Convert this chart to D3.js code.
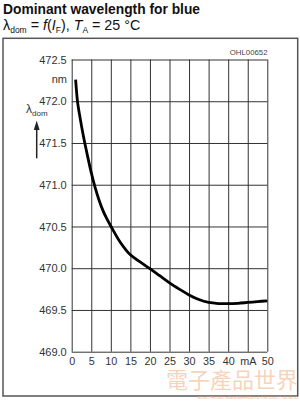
<!DOCTYPE html>
<html>
<head>
<meta charset="utf-8">
<script src="https://cdn.jsdelivr.net/npm/d3@7"></script>
<style>
  html, body { margin: 0; padding: 0; background: #fff; }
  svg { display: block; font-family: "Liberation Sans", Arial, sans-serif; }
</style>
</head>
<body>
<div id="chart"></div>
<script>
// forward current I_F (mA) and dominant wavelength (nm)
const currentMA = [1, 1.5, 2, 2.5, 3, 3.5, 4, 5, 6, 7, 8, 9, 10, 12.5, 15, 17.5, 20, 22.5, 25, 27.5, 30, 32.5, 35, 37.5, 40, 42.5, 45, 47.5, 50];
const wavelengthNm = [472.26, 471.99, 471.84, 471.705, 471.58, 471.465, 471.355, 471.145, 470.965, 470.815, 470.69, 470.59, 470.505, 470.305, 470.16, 470.075, 469.995, 469.91, 469.825, 469.75, 469.68, 469.625, 469.59, 469.577, 469.575, 469.58, 469.59, 469.60, 469.61];

const xTicks = [0, 5, 10, 15, 20, 25, 30, 35, 40, 45, 50];
const xTickLabels = ["0", "5", "10", "15", "20", "25", "30", "35", "40", "mA", "50"];
const yTicks = [469.0, 469.5, 470.0, 470.5, 471.0, 471.5, 472.0, 472.5];

const width = 300;
const height = 401;

const x = d3.scaleLinear().domain([0, 50]).range([71.7, 267.3]);
const y = d3.scaleLinear().domain([469, 472.5]).range([351.7, 59.5]);

const svg = d3.select("#chart").append("svg")
    .attr("width", width)
    .attr("height", height)
    .attr("viewBox", [0, 0, width, height]);

// title lines
svg.append("text")
    .attr("x", 3)
    .attr("y", 14)
    .attr("font-size", 13.8)
    .attr("font-weight", "bold")
    .attr("fill", "#111")
    .text("Dominant wavelength for blue");

const sub = svg.append("text")
    .attr("x", 3)
    .attr("y", 30)
    .attr("font-size", 14.3)
    .attr("fill", "#111");
sub.append("tspan").text("λ");
sub.append("tspan").attr("font-size", 8.5).attr("dy", 3).text("dom");
sub.append("tspan").attr("dy", -3).text(" = ");
sub.append("tspan").attr("font-style", "italic").text("f");
sub.append("tspan").text("(");
sub.append("tspan").attr("font-style", "italic").text("I");
sub.append("tspan").attr("font-size", 8.5).attr("dy", 3).text("F");
sub.append("tspan").attr("dy", -3).text("), ");
sub.append("tspan").attr("font-style", "italic").text("T");
sub.append("tspan").attr("font-size", 8.5).attr("dy", 3).text("A");
sub.append("tspan").attr("dy", -3).text(" = 25 °C");

// outer frame
svg.append("rect")
    .attr("x", 3)
    .attr("y", 38.3)
    .attr("width", 294.7)
    .attr("height", 357.7)
    .attr("fill", "none")
    .attr("stroke", "#555")
    .attr("stroke-width", 1.5);

// watermark
svg.append("text")
    .attr("x", 298)
    .attr("y", 388)
    .attr("text-anchor", "end")
    .attr("font-family", "'Noto Sans CJK TC', sans-serif")
    .attr("font-size", 22)
    .attr("fill", "#f4bf9c")
    .attr("fill-opacity", 0.7)
    .text("電子產品世界");
svg.append("text")
    .attr("x", 298)
    .attr("y", 399)
    .attr("text-anchor", "end")
    .attr("font-size", 4.2)
    .attr("fill", "#f2b48a")
    .text("ELECTRONIC ENGINEERING & PRODUCT WORLD");

// grid + axes
svg.append("g")
    .attr("transform", `translate(0,${y(469)})`)
    .call(d3.axisBottom(x).tickValues(xTicks).tickSize(y(472.5) - y(469)).tickFormat((d, i) => xTickLabels[i]))
    .call(g => g.select(".domain").remove())
    .call(g => g.selectAll(".tick line").attr("stroke", "#333").attr("stroke-width", 1)
        .attr("y1", 0).attr("y2", y(472.5) - y(469)))
    .call(g => g.selectAll(".tick text")
        .attr("y", 13.5)
        .attr("dy", 0)
        .attr("font-size", 10.8)
        .attr("font-family", "'Liberation Sans', Arial, sans-serif")
        .attr("fill", "#333"));

svg.append("g")
    .attr("transform", `translate(${x(0)},0)`)
    .call(d3.axisLeft(y).tickValues(yTicks).tickSize(-(x(50) - x(0))).tickFormat(d3.format(".1f")))
    .call(g => g.select(".domain").remove())
    .call(g => g.selectAll(".tick line").attr("stroke", "#333").attr("stroke-width", 1))
    .call(g => g.selectAll(".tick text")
        .attr("x", -5)
        .attr("font-size", 11)
        .attr("font-family", "'Liberation Sans', Arial, sans-serif")
        .attr("fill", "#333"));

// unit + axis symbol
svg.append("text")
    .attr("x", 67)
    .attr("y", 82.5)
    .attr("text-anchor", "end")
    .attr("font-size", 11)
    .attr("fill", "#333")
    .text("nm");

const yl = svg.append("text")
    .attr("x", 26)
    .attr("y", 113)
    .attr("font-size", 12)
    .attr("fill", "#333");
yl.append("tspan").text("λ");
yl.append("tspan").attr("font-size", 8).attr("dy", 3).text("dom");

svg.append("line")
    .attr("x1", 36.7).attr("x2", 36.7)
    .attr("y1", 128).attr("y2", 158.3)
    .attr("stroke", "#222")
    .attr("stroke-width", 1.5);
svg.append("path")
    .attr("d", "M36.7,120.5 L39.6,130 L33.8,130 Z")
    .attr("fill", "#222");

svg.append("text")
    .attr("x", 267.5)
    .attr("y", 55)
    .attr("text-anchor", "end")
    .attr("font-size", 7.8)
    .attr("fill", "#444")
    .text("OHL00652");

// curve
const line = d3.line()
    .curve(d3.curveCatmullRom.alpha(0.5))
    .x((d, i) => x(currentMA[i]))
    .y(d => y(d));

svg.append("path")
    .datum(wavelengthNm)
    .attr("fill", "none")
    .attr("stroke", "#000")
    .attr("stroke-width", 2.8)
    .attr("stroke-linejoin", "round")
    .attr("d", line);
</script>
</body>
</html>
